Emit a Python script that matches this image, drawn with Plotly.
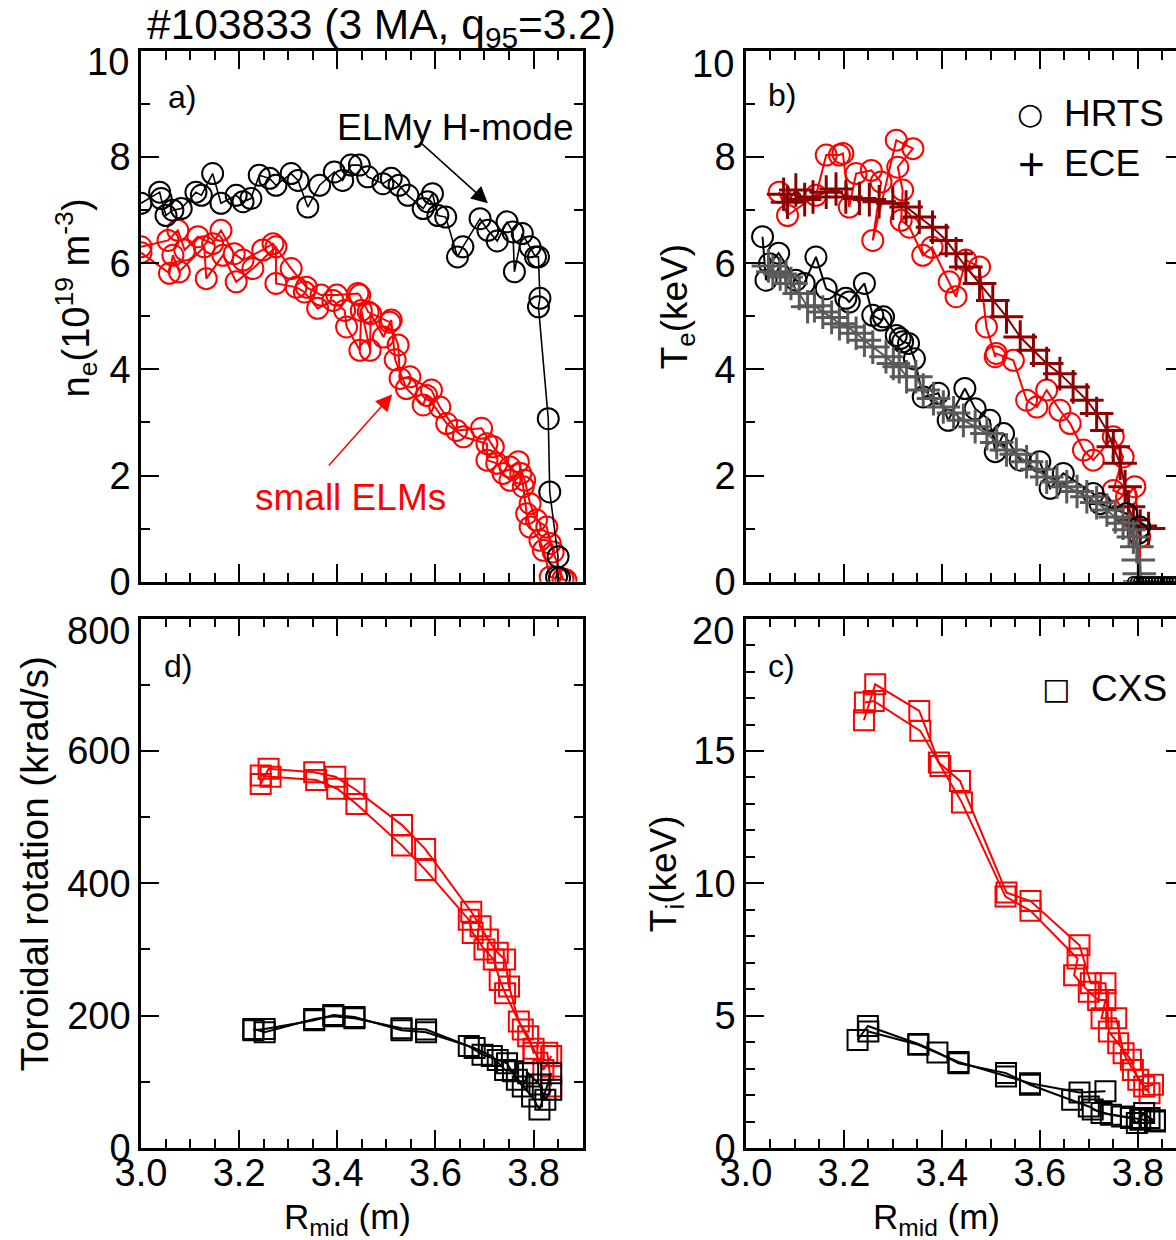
import plotly.graph_objects as go

# ---------------- data ----------------
# a) electron density (1e19 m^-3)
ne_elmy_R = [3.000, 3.038, 3.041, 3.051, 3.065, 3.082, 3.112, 3.123, 3.146, 3.163, 3.194, 3.208, 3.224,
             3.241, 3.262, 3.275, 3.306, 3.320, 3.340, 3.364, 3.394, 3.411, 3.428, 3.445, 3.462, 3.493,
             3.510, 3.526, 3.544, 3.575, 3.584, 3.594, 3.605, 3.621, 3.645, 3.656, 3.691, 3.707, 3.726,
             3.746, 3.758, 3.761, 3.777, 3.793, 3.804, 3.810, 3.813, 3.810, 3.830, 3.833, 3.850, 3.847, 3.853]
ne_elmy = [7.13, 7.34, 7.22, 6.90, 7.00, 7.03, 7.34, 7.28, 7.69, 7.13, 7.28, 7.16, 7.22,
           7.66, 7.60, 7.47, 7.69, 7.56, 7.06, 7.47, 7.72, 7.56, 7.85, 7.85, 7.63, 7.50,
           7.60, 7.47, 7.28, 7.03, 7.16, 7.31, 6.90, 6.87, 6.12, 6.31, 6.84, 6.62, 6.42,
           6.78, 6.59, 5.84, 6.56, 6.31, 6.12, 6.12, 5.34, 5.18, 3.07, 1.69, 0.47, 0.09, 0.07]

ne_small_R1 = [3.000, 3.055, 3.075, 3.089, 3.116, 3.146, 3.163, 3.190, 3.208, 3.248, 3.269, 3.306, 3.337,
               3.367, 3.399, 3.442, 3.446, 3.463, 3.507, 3.524, 3.528, 3.548, 3.592, 3.609, 3.643, 3.694,
               3.718, 3.752, 3.769, 3.782, 3.793, 3.806, 3.827, 3.834, 3.840, 3.860]
ne_small1 = [6.31, 6.43, 6.62, 6.25, 6.50, 6.37, 6.62, 6.18, 6.06, 6.25, 6.37, 5.90, 5.55,
             5.40, 5.40, 5.43, 5.40, 5.08, 4.89, 4.46, 3.83, 3.86, 3.61, 3.29, 2.85, 2.89,
             2.54, 2.16, 2.26, 1.91, 1.47, 1.16, 1.03, 0.72, 0.56, 0.05]
ne_small_R2 = [3.000, 3.058, 3.065, 3.078, 3.129, 3.133, 3.167, 3.194, 3.228, 3.275, 3.275, 3.316, 3.333,
               3.360, 3.391, 3.415, 3.419, 3.446, 3.449, 3.467, 3.468, 3.494, 3.510, 3.518, 3.541, 3.575,
               3.582, 3.623, 3.657, 3.705, 3.705, 3.725, 3.738, 3.752, 3.774, 3.779, 3.786, 3.793, 3.813,
               3.820, 3.834, 3.866]
ne_small2 = [6.20, 5.81, 6.15, 5.84, 6.31, 5.71, 6.15, 5.65, 5.90, 6.31, 5.62, 5.55, 5.46,
             5.15, 5.30, 5.11, 4.80, 4.36, 5.11, 4.36, 5.05, 4.61, 4.93, 4.18, 3.64, 3.33,
             3.51, 2.98, 2.73, 2.60, 2.29, 2.23, 2.04, 1.91, 2.04, 1.79, 1.28, 1.03, 0.78,
             0.59, 0.09, 0.03]

# b) electron temperature (keV)
te_hrts_elmy_R = [3.034, 3.041, 3.048, 3.067, 3.102, 3.119, 3.143, 3.164, 3.204, 3.211, 3.242, 3.259,
                  3.276, 3.281, 3.307, 3.315, 3.320, 3.332, 3.344, 3.362, 3.393, 3.413, 3.447, 3.468,
                  3.498, 3.509, 3.526, 3.560, 3.600, 3.621, 3.648, 3.709, 3.723, 3.777, 3.804, 3.801]
te_hrts_elmy = [6.50, 5.68, 5.99, 6.19, 5.68, 5.62, 6.12, 5.52, 5.34, 5.27, 5.62, 5.02,
                4.93, 4.99, 4.64, 4.58, 4.52, 4.49, 4.20, 3.48, 3.55, 3.04, 3.64, 3.26,
                3.04, 2.45, 2.79, 2.29, 2.26, 1.76, 2.04, 1.66, 1.47, 1.28, 1.03, 0.91]
te_ece_elmy_R = [3.046, 3.055, 3.070, 3.082, 3.092, 3.109, 3.126, 3.140, 3.157, 3.175, 3.191, 3.208, 3.225,
                 3.242, 3.259, 3.286, 3.301, 3.313, 3.328, 3.347, 3.362, 3.383, 3.403, 3.424, 3.444,
                 3.468, 3.492, 3.512, 3.532, 3.552, 3.573, 3.594, 3.614, 3.635, 3.655, 3.676, 3.696,
                 3.716, 3.737, 3.754, 3.770, 3.782, 3.791, 3.798, 3.801, 3.803, 3.804]
te_ece_elmy = [5.95, 5.84, 5.80, 5.74, 5.62, 5.43, 5.18, 5.20, 5.08, 4.98, 4.86, 4.80, 4.68,
               4.55, 4.42, 4.24, 4.11, 4.05, 3.86, 3.86, 3.61, 3.45, 3.29, 3.18, 3.04,
               2.92, 2.79, 2.62, 2.48, 2.40, 2.26, 2.12, 1.97, 1.88, 1.79, 1.70, 1.60,
               1.49, 1.35, 1.22, 1.10, 0.98, 0.84, 0.66, 0.41, 0.15, 0.0]
te_hrts_small_R = [3.068, 3.085, 3.143, 3.164, 3.191, 3.198, 3.211, 3.225, 3.256, 3.276, 3.259, 3.307,
                   3.341, 3.310, 3.320, 3.317, 3.334, 3.361, 3.380, 3.415, 3.429, 3.449, 3.477, 3.491,
                   3.509, 3.511, 3.546, 3.573, 3.594, 3.614, 3.641, 3.662, 3.689, 3.709, 3.750, 3.770,
                   3.750, 3.777, 3.794, 3.804]
te_hrts_small = [7.34, 6.90, 7.28, 8.04, 8.04, 8.07, 7.06, 7.69, 7.75, 7.53, 6.43, 8.32,
                 8.16, 7.81, 7.38, 6.81, 6.68, 6.15, 6.30, 5.65, 5.37, 6.06, 5.93, 4.80,
                 4.24, 4.30, 4.17, 3.42, 3.29, 3.61, 3.23, 2.98, 2.48, 2.29, 2.73, 2.35,
                 1.72, 1.60, 1.79, 0.84]
te_ece_small_R = [3.077, 3.085, 3.102, 3.120, 3.137, 3.164, 3.184, 3.204, 3.232, 3.252, 3.272, 3.300,
                  3.327, 3.354, 3.381, 3.409, 3.429, 3.449, 3.477, 3.504, 3.532, 3.560, 3.587, 3.614,
                  3.641, 3.668, 3.696, 3.716, 3.737, 3.750, 3.764, 3.774, 3.781, 3.791, 3.805, 3.822]
te_ece_small = [7.30, 7.15, 7.38, 7.20, 7.25, 7.34, 7.40, 7.25, 7.22, 7.20, 7.16, 7.13,
                7.06, 6.87, 6.68, 6.43, 6.18, 5.93, 5.62, 5.30, 4.99, 4.61, 4.36, 4.11,
                3.92, 3.67, 3.42, 3.17, 2.85, 2.54, 2.23, 1.79, 1.41, 1.16, 1.05, 1.00]
te_zero_R = [3.790, 3.796, 3.802, 3.808, 3.814, 3.820, 3.826, 3.832, 3.838, 3.844, 3.850, 3.856,
             3.862, 3.868, 3.874, 3.880]
te_zero = [0.0] * len(te_zero_R)
te_small_edge_R = [3.804, 3.806, 3.900]
te_small_edge = [0.84, 0.0, 0.0]

# d) toroidal rotation (krad/s)
rot_small_R1 = [3.244, 3.260, 3.353, 3.396, 3.435, 3.532, 3.579, 3.673, 3.692, 3.707, 3.727, 3.742,
                3.750, 3.770, 3.789, 3.800, 3.828, 3.836]
rot_small1 = [550, 573, 568, 561, 543, 488, 452, 357, 335, 315, 295, 285, 244, 191, 169, 144, 144, 93]
rot_small_R2 = [3.244, 3.264, 3.357, 3.400, 3.439, 3.532, 3.580, 3.668, 3.676, 3.700, 3.719, 3.731,
                3.742, 3.778, 3.800, 3.820, 3.836]
rot_small2 = [563, 561, 556, 543, 520, 457, 420, 345, 325, 300, 285, 254, 234, 179, 150, 118, 139]
rot_elmy_R1 = [3.229, 3.252, 3.353, 3.392, 3.435, 3.531, 3.581, 3.668, 3.696, 3.727, 3.746, 3.766,
               3.797, 3.812, 3.836]
rot_elmy1 = [180, 175, 195, 199, 196, 181, 179, 154, 141, 133, 128, 103, 78, 58, 113]
rot_elmy_R2 = [3.229, 3.252, 3.353, 3.392, 3.435, 3.531, 3.581, 3.680, 3.715, 3.742, 3.758, 3.778,
               3.789, 3.812, 3.824, 3.836]
rot_elmy2 = [178, 180, 193, 201, 198, 178, 175, 151, 139, 118, 116, 93, 113, 96, 73, 88]

# c) ion temperature (keV)
ti_small_R1 = [3.241, 3.264, 3.354, 3.394, 3.437, 3.532, 3.581, 3.681, 3.704, 3.734, 3.741, 3.760,
               3.786, 3.801, 3.824]
ti_small1 = [16.16, 17.52, 16.51, 14.56, 13.87, 9.65, 9.33, 7.66, 6.22, 6.22, 4.40, 3.96, 3.33, 2.58, 2.07]
ti_small_R2 = [3.243, 3.261, 3.356, 3.397, 3.441, 3.530, 3.581, 3.677, 3.670, 3.700, 3.719, 3.734,
               3.726, 3.756, 3.771, 3.790, 3.813, 3.831]
ti_small2 = [16.83, 16.89, 15.76, 14.43, 13.05, 9.50, 8.96, 7.16, 6.53, 5.90, 5.59, 5.59,
             4.90, 4.90, 3.58, 2.95, 2.32, 2.39]
ti_elmy_R1 = [3.228, 3.249, 3.352, 3.391, 3.434, 3.531, 3.580, 3.666, 3.700, 3.726, 3.768, 3.805, 3.835]
ti_elmy1 = [4.08, 4.61, 3.93, 3.61, 3.20, 2.83, 2.39, 1.82, 1.57, 1.32, 1.19, 1.07, 1.00]
ti_elmy_R2 = [3.250, 3.352, 3.434, 3.531, 3.580, 3.681, 3.734]
ti_elmy2 = [4.40, 3.90, 3.25, 2.70, 2.45, 2.10, 2.14]
ti_elmy_R3 = [3.708, 3.745, 3.786, 3.798, 3.813, 3.824, 3.835]
ti_elmy3 = [1.45, 1.26, 1.13, 0.94, 1.32, 1.13, 1.05]

# tick values (the top value of each y axis is written just below its tick, as in the original)
ne_ticks = [0, 2, 4, 6, 8]
te_ticks = [0, 2, 4, 6, 8]
rot_ticks = [0, 200, 400, 600]
ti_ticks = [0, 5, 10, 15]
y_top_labels = ["10", "10", "800", "20"]
x_ticks_major = 0.2
x_ticks_minor = 0.05

# ---------------- geometry ----------------
W, H = 1176, 1240
ML, MR, MT, MB = 140.8, 0, 50.7, 92
PW = W - ML - MR
PH = H - MT - MB


def px(x):
    return (x - ML) / PW


def py(y):
    return (H - MB - y) / PH


FONT = "Liberation Sans, Arial, Helvetica, sans-serif"
RED = "#ff0000"
DARKRED = "#8b0000"
GRAY = "#5a5a5a"
BLACK = "#000000"
TICKFONT = 38

XA = [0, px(582.5)]
XB = [px(745.8), 1]
YT = [py(581.5), 1]
YB = [0, py(618.5)]


def xax(domain, anchor, rng, labels):
    return dict(domain=domain, anchor=anchor, range=rng, showline=True, linecolor="black", linewidth=2.5,
                mirror="ticks", ticks="inside", ticklen=18, tickwidth=2, tickcolor="black",
                tick0=3.0, dtick=x_ticks_major, tickformat=".1f", showticklabels=labels,
                ticklabelstandoff=-10,
                showgrid=False, zeroline=False, tickfont=dict(size=TICKFONT, color="black", family=FONT),
                minor=dict(ticks="inside", ticklen=9, tickwidth=2, tickcolor="black", tick0=3.0,
                           dtick=x_ticks_minor, showgrid=False))


def yax(domain, anchor, rng, tickvals, mdtick, mirror):
    return dict(domain=domain, anchor=anchor, range=rng, showline=True, linecolor="black", linewidth=2.5,
                mirror="ticks" if mirror else False, ticks="inside", ticklen=18, tickwidth=2,
                tickcolor="black", tickmode="array", tickvals=tickvals + [rng[1]],
                ticktext=[str(v) for v in tickvals] + [""], showgrid=False, zeroline=False,
                tickfont=dict(size=TICKFONT, color="black", family=FONT),
                minor=dict(ticks="inside", ticklen=9, tickwidth=2, tickcolor="black", tick0=0,
                           dtick=mdtick, showgrid=False))


fig = go.Figure()


def add(xv, yv, color, symbol, xa, ya, size=21, lw=2, mlw=2, mode="lines+markers"):
    fig.add_trace(go.Scatter(x=xv, y=yv, mode=mode, xaxis=xa, yaxis=ya, showlegend=False,
                             line=dict(color=color, width=lw),
                             marker=dict(symbol=symbol, size=size, color=color,
                                         line=dict(width=mlw, color=color))))


# panel a
add(ne_small_R2, ne_small2, RED, "circle-open", "x", "y")
add(ne_small_R1, ne_small1, RED, "circle-open", "x", "y")
add(ne_elmy_R, ne_elmy, BLACK, "circle-open", "x", "y", lw=1.6)

# panel b
add(te_small_edge_R, te_small_edge, RED, "circle-open", "x2", "y2", mode="lines")
add(te_hrts_small_R, te_hrts_small, RED, "circle-open", "x2", "y2")
add(te_ece_small_R, te_ece_small, DARKRED, "cross-thin-open", "x2", "y2", size=24, mlw=3)
add(te_hrts_elmy_R, te_hrts_elmy, BLACK, "circle-open", "x2", "y2")
add(te_ece_elmy_R, te_ece_elmy, GRAY, "cross-thin-open", "x2", "y2", size=24, mlw=3)
add(te_zero_R, te_zero, BLACK, "circle-open", "x2", "y2", size=10, mlw=1.5, lw=1.5)

# panel d
add(rot_small_R1, rot_small1, RED, "square-open", "x3", "y3", size=20)
add(rot_small_R2, rot_small2, RED, "square-open", "x3", "y3", size=20)
add(rot_elmy_R1, rot_elmy1, BLACK, "square-open", "x3", "y3", size=20)
add(rot_elmy_R2, rot_elmy2, BLACK, "square-open", "x3", "y3", size=20)

# panel c
add(ti_small_R1, ti_small1, RED, "square-open", "x4", "y4", size=20)
add(ti_small_R2, ti_small2, RED, "square-open", "x4", "y4", size=20)
add(ti_elmy_R1, ti_elmy1, BLACK, "square-open", "x4", "y4", size=20)
add(ti_elmy_R2, ti_elmy2, BLACK, "square-open", "x4", "y4", size=20)
add(ti_elmy_R3, ti_elmy3, BLACK, "square-open", "x4", "y4", size=20)

# empty traces to activate the right-hand tick stubs of the cut-off panels
fig.add_trace(go.Scatter(x=[], y=[], xaxis="x2", yaxis="y5", showlegend=False))
fig.add_trace(go.Scatter(x=[], y=[], xaxis="x4", yaxis="y6", showlegend=False))

stub = dict(side="right", showline=False, ticks="inside", ticklen=10, tickwidth=2, tickcolor="black",
            showticklabels=False, showgrid=False, zeroline=False, tick0=0)

fig.update_layout(
    width=W, height=H, plot_bgcolor="white", paper_bgcolor="white",
    margin=dict(l=ML, r=MR, t=MT, b=MB, autoexpand=False),
    font=dict(family=FONT, color="black"),
    xaxis=xax(XA, "y", [3.0, 3.9], False),
    yaxis=yax(YT, "x", [0, 10], ne_ticks, 1, True),
    xaxis2=xax(XB, "y2", [3.0, 3.878], False),
    yaxis2=yax(YT, "x2", [0, 10], te_ticks, 1, False),
    xaxis3=xax(XA, "y3", [3.0, 3.9], True),
    yaxis3=yax(YB, "x3", [0, 800], rot_ticks, 100, True),
    xaxis4=xax(XB, "y4", [3.0, 3.878], True),
    yaxis4=yax(YB, "x4", [0, 20], ti_ticks, 1, False),
    yaxis5=dict(stub, overlaying="y2", anchor="x2", range=[0, 10], dtick=2),
    yaxis6=dict(stub, overlaying="y4", anchor="x4", range=[0, 20], dtick=5),
)


def ann(text, x, y, size, color=BLACK, xanchor="center", angle=0, family=FONT):
    return dict(text=text, x=px(x), y=py(y), xref="paper", yref="paper", showarrow=False,
                font=dict(size=size, color=color, family=family), xanchor=xanchor, yanchor="middle",
                textangle=angle)


anns = [
    ann("#103833 (3 MA, q<sub>95</sub>=3.2)", 381, 27, 42.5),
    ann(y_top_labels[0], 131, 62, TICKFONT, xanchor="right"),
    ann(y_top_labels[1], 736, 64, TICKFONT, xanchor="right"),
    ann(y_top_labels[2], 132, 631, TICKFONT, xanchor="right"),
    ann(y_top_labels[3], 736, 631, TICKFONT, xanchor="right"),
    ann("a)", 166, 97, 32, xanchor="left"),
    ann("b)", 766, 95, 32, xanchor="left"),
    ann("d)", 162, 666, 32, xanchor="left"),
    ann("c)", 766, 666, 32, xanchor="left"),
    ann("n<sub>e</sub>(10<sup>19</sup> m<sup>-3</sup>)", 76, 298, 38, angle=-90),
    ann("T<sub>e</sub>(keV)", 677, 307, 37, angle=-90),
    ann("Toroidal rotation (krad/s)", 34, 864, 38.5, angle=-90),
    ann("T<sub>i</sub>(keV)", 666, 874, 37, angle=-90),
    ann("R<sub>mid</sub> (m)", 347, 1219, 35),
    ann("R<sub>mid</sub> (m)", 936, 1219, 35),
    ann("ELMy H-mode", 455, 127, 37),
    ann("small ELMs", 350, 497, 37, color=RED),
    ann("\u25cb", 1030, 113, 30, family="DejaVu Sans"),
    ann("HRTS", 1062, 113, 37, xanchor="left"),
    ann("+", 1031, 164, 46),
    ann("ECE", 1062, 163, 37, xanchor="left"),
    ann("\u25a1", 1056, 688, 30, family="DejaVu Sans"),
    ann("CXS", 1089, 688, 37, xanchor="left"),
]

# arrows (head -> tail, in data coordinates of panel a)
anns.append(dict(x=3.707, y=7.13, ax=3.569, ay=8.28, xref="x", yref="y", axref="x", ayref="y",
                 text="", showarrow=True, arrowhead=2, arrowsize=2.2, arrowwidth=1.5, arrowcolor=BLACK))
anns.append(dict(x=3.512, y=3.53, ax=3.380, ay=2.16, xref="x", yref="y", axref="x", ayref="y",
                 text="", showarrow=True, arrowhead=2, arrowsize=2.2, arrowwidth=1.5, arrowcolor=RED))

fig.update_layout(annotations=anns)

fig.write_html("out.html")
